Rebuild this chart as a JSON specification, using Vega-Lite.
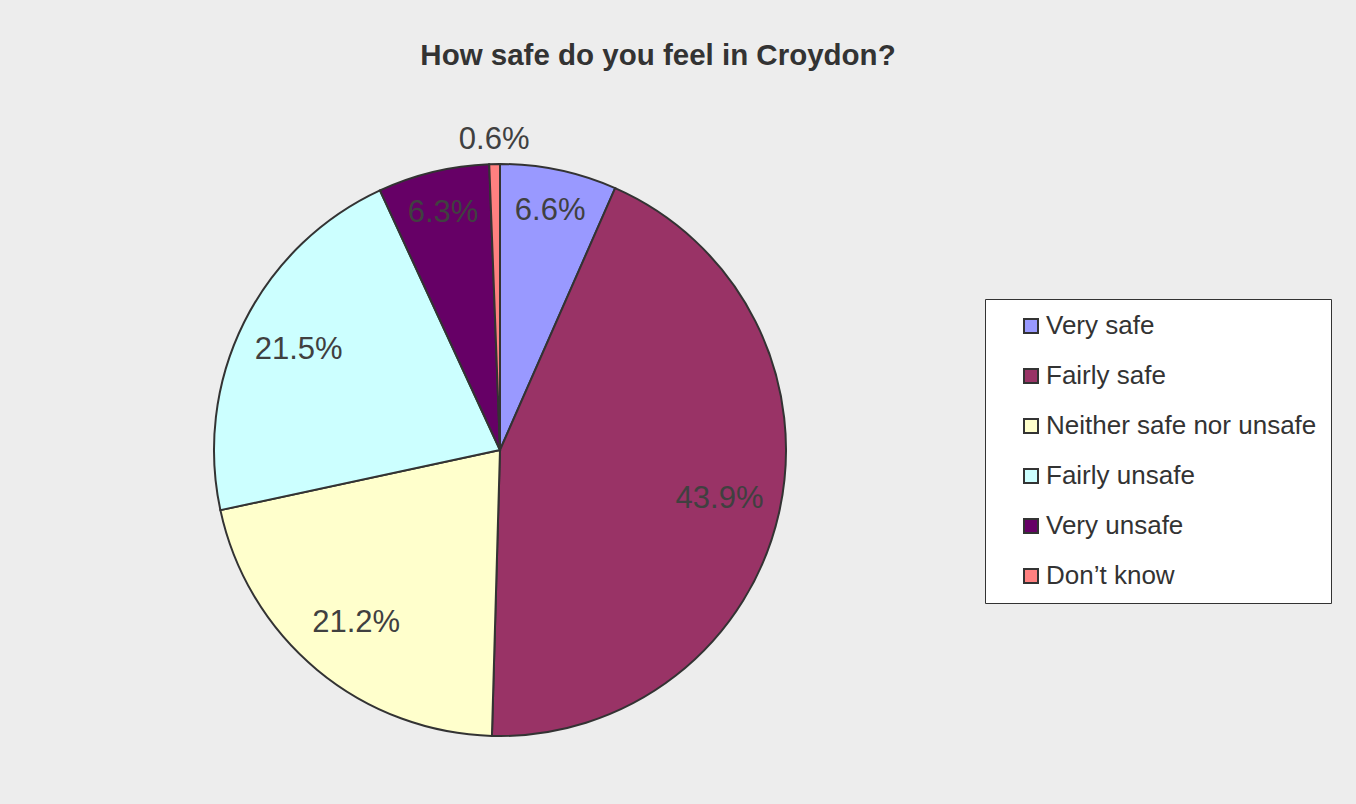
{
  "$schema": "https://vega.github.io/schema/vega-lite/v6.json",
  "autosize": "none",
  "width": 1000,
  "height": 708,
  "padding": {"left": 0, "top": 96, "right": 356, "bottom": 0},
  "background": "#EDEDED",
  "config": {"view": {"stroke": null}, "font": "Liberation Sans"},
  "title": {
    "text": "How safe do you feel in Croydon?",
    "font": "Liberation Sans",
    "fontSize": 29.5,
    "fontWeight": "bold",
    "color": "#333333",
    "anchor": "middle",
    "dx": 158,
    "offset": 25
  },
  "data": {
    "values": [
      {"category": "Very safe", "pct": 0.066, "rank": 1},
      {"category": "Fairly safe", "pct": 0.439, "rank": 2},
      {"category": "Neither safe nor unsafe", "pct": 0.212, "rank": 3},
      {"category": "Fairly unsafe", "pct": 0.215, "rank": 4},
      {"category": "Very unsafe", "pct": 0.063, "rank": 5},
      {"category": "Don’t know", "pct": 0.006, "rank": 6}
    ]
  },
  "encoding": {
    "theta": {"field": "pct", "type": "quantitative", "stack": true},
    "order": {"field": "rank", "type": "quantitative"}
  },
  "layer": [
    {
      "mark": {"type": "arc", "outerRadius": 286, "stroke": "#333333", "strokeWidth": 2},
      "encoding": {
        "color": {
          "field": "category",
          "type": "nominal",
          "scale": {
            "domain": ["Very safe", "Fairly safe", "Neither safe nor unsafe", "Fairly unsafe", "Very unsafe", "Don’t know"],
            "range": ["#9999FF", "#993366", "#FFFFCC", "#CCFFFF", "#660066", "#FF8080"]
          },
          "legend": {
            "title": null,
            "orient": "none",
            "legendX": 985,
            "legendY": 203,
            "fillColor": "white",
            "strokeColor": "#333333",
            "padding": 14,
            "symbolType": "square",
            "symbolSize": 196,
            "symbolStrokeColor": "#333333",
            "symbolStrokeWidth": 2,
            "symbolOffset": 19,
            "labelFont": "Liberation Sans",
            "labelFontSize": 26,
            "labelColor": "#333333",
            "labelOffset": 2,
            "labelLimit": 400,
            "rowPadding": 24
          }
        }
      }
    },
    {
      "mark": {"type": "text", "radius": 225, "font": "Liberation Sans", "fontSize": 31, "color": "#404040"},
      "encoding": {
        "text": {
          "condition": {"test": "indexof(['Fairly safe','Neither safe nor unsafe','Fairly unsafe'], datum.category) < 0", "value": ""},
          "field": "pct",
          "type": "quantitative",
          "format": ".1%"
        }
      }
    },
    {
      "mark": {"type": "text", "radius": 244, "font": "Liberation Sans", "fontSize": 31, "color": "#404040"},
      "encoding": {
        "text": {
          "condition": {"test": "indexof(['Very safe','Very unsafe'], datum.category) < 0", "value": ""},
          "field": "pct",
          "type": "quantitative",
          "format": ".1%"
        }
      }
    },
    {
      "mark": {"type": "text", "radius": 310, "font": "Liberation Sans", "fontSize": 31, "color": "#404040"},
      "encoding": {
        "text": {
          "condition": {"test": "datum.category !== 'Don’t know'", "value": ""},
          "field": "pct",
          "type": "quantitative",
          "format": ".1%"
        }
      }
    }
  ]
}
